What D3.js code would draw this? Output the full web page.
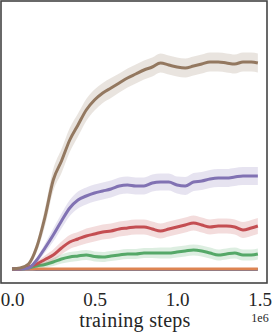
<!DOCTYPE html>
<html>
<head>
<meta charset="utf-8">
<script src="https://cdn.jsdelivr.net/npm/d3@7"></script>
<style>
  body { margin: 0; background: #fff; }
  svg { display: block; }
</style>
</head>
<body>
<svg id="chart" width="272" height="335"></svg>
<script>
// training steps (millions)
const steps = [0, 0.05, 0.1, 0.15, 0.2, 0.25, 0.3, 0.35, 0.4, 0.45, 0.5, 0.55, 0.6, 0.65, 0.7,
  0.75, 0.8, 0.85, 0.9, 0.95, 1.0, 1.05, 1.1, 1.15, 1.2, 1.25, 1.3, 1.35, 1.4, 1.45, 1.49];

// mean return per run
const blueMean   = [0, -1, -1, -2, -2, -2, -2, -2, -2, -2, -2, -2, -2, -2, -2, -2, -2, -2, -2, -2, -2, -2, -2, -2, -2, -2, -2, -2, -2, -2, -2];
const orangeMean = [0, 0, 0, 0, 0, 0, 0, 0, 0, 0, 0, 0, 0, 0, 0, 0, 0, 0, 0, 0, 0, 0, 0, 0, 0, 0, 0, 0, 0, 0, 0];
const greenMean  = [0, 0, 4, 12, 18, 28, 40, 48, 52, 56, 50, 48, 52, 56, 60, 60, 64, 64, 64, 64, 68, 72, 76, 72, 64, 56, 60, 64, 56, 56, 60];
const redMean    = [0, 0, 8, 20, 38, 56, 84, 108, 120, 132, 140, 148, 152, 160, 164, 168, 168, 160, 152, 160, 168, 176, 184, 176, 168, 172, 172, 168, 156, 164, 172];
const purpleMean = [0, 0, 4, 36, 84, 136, 192, 244, 276, 292, 304, 312, 320, 332, 336, 332, 332, 344, 348, 348, 336, 332, 348, 352, 360, 364, 364, 368, 372, 372, 372];
const brownMean  = [0, 4, 20, 88, 208, 356, 432, 516, 576, 636, 676, 704, 724, 744, 764, 780, 796, 808, 824, 816, 808, 804, 812, 820, 828, 828, 824, 820, 828, 828, 824];

// spread (half width of the shaded band)
const blueSpread   = [0, 1, 1, 2, 2, 2, 2, 2, 2, 2, 2, 2, 2, 2, 2, 2, 2, 2, 2, 2, 2, 2, 2, 2, 2, 2, 2, 2, 2, 2, 2];
const orangeSpread = [0, 1, 1, 1, 1, 1, 1, 1, 1, 1, 1, 1, 1, 1, 1, 1, 1, 1, 1, 1, 1, 1, 1, 1, 1, 1, 1, 1, 1, 1, 1];
const greenSpread  = [0, 1, 3, 8, 12, 16, 18, 20, 20, 20, 20, 20, 20, 20, 20, 20, 20, 20, 22, 22, 22, 22, 22, 22, 22, 22, 22, 22, 22, 22, 22];
const redSpread    = [0, 1, 4, 10, 16, 22, 26, 28, 28, 30, 30, 30, 30, 30, 30, 30, 30, 30, 30, 30, 30, 30, 30, 30, 30, 30, 30, 30, 32, 32, 32];
const purpleSpread = [0, 1, 3, 10, 18, 26, 30, 32, 34, 34, 34, 34, 34, 34, 34, 34, 34, 34, 34, 34, 34, 36, 36, 36, 36, 36, 36, 36, 36, 36, 36];
const brownSpread  = [0, 2, 8, 20, 36, 44, 48, 48, 46, 44, 42, 40, 40, 38, 38, 38, 38, 38, 38, 38, 38, 38, 38, 38, 38, 38, 38, 38, 38, 38, 38];

const xTicks = [0, 0.5, 1.0, 1.5];

const series = [
  { mean: blueMean, spread: blueSpread, color: "#4C72B0" },
  { mean: orangeMean, spread: orangeSpread, color: "#DD8452" },
  { mean: greenMean, spread: greenSpread, color: "#55A868" },
  { mean: redMean, spread: redSpread, color: "#C44E52" },
  { mean: purpleMean, spread: purpleSpread, color: "#8172B3" },
  { mean: brownMean, spread: brownSpread, color: "#937860" }
];

const svg = d3.select("#chart");
const frame = { left: 1, top: 1, right: 267, bottom: 283 };
const serif = "'Liberation Serif', 'DejaVu Serif', serif";

const x = d3.scaleLinear().domain([0, 1.5]).range([12, 259.5]);
const y = d3.scaleLinear().domain([-56, 1072]).range([frame.bottom, frame.top]);

const g = svg.append("g");

series.forEach((s) => {
  const pts = steps.map((t, i) => ({ t, m: s.mean[i], e: s.spread[i] }));

  g.append("path")
    .datum(pts)
    .attr("fill", s.color)
    .attr("fill-opacity", 0.2)
    .attr("d", d3.area()
      .x((d) => x(d.t))
      .y0((d) => y(d.m - d.e))
      .y1((d) => y(d.m + d.e))
      .curve(d3.curveMonotoneX));

  g.append("path")
    .datum(pts)
    .attr("fill", "none")
    .attr("stroke", s.color)
    .attr("stroke-width", 3)
    .attr("stroke-linejoin", "round")
    .attr("d", d3.line()
      .x((d) => x(d.t))
      .y((d) => y(d.m))
      .curve(d3.curveMonotoneX));
});

// frame
svg.append("rect")
  .attr("x", frame.left)
  .attr("y", frame.top)
  .attr("width", frame.right - frame.left)
  .attr("height", frame.bottom - frame.top)
  .attr("fill", "none")
  .attr("stroke", "#444")
  .attr("stroke-width", 1.6);

// x axis
const xAxis = svg.append("g")
  .attr("transform", `translate(0,${frame.bottom})`)
  .call(d3.axisBottom(x).tickValues(xTicks).tickSize(0).tickPadding(10).tickFormat(d3.format(".1f")));
xAxis.select(".domain").remove();
xAxis.selectAll("text")
  .attr("font-family", serif)
  .attr("font-size", 19)
  .attr("fill", "#262626");

svg.append("text")
  .attr("x", 135)
  .attr("y", 327)
  .attr("text-anchor", "middle")
  .attr("font-family", serif)
  .attr("font-size", 20)
  .attr("letter-spacing", 0.3)
  .attr("fill", "#262626")
  .text("training steps");

svg.append("text")
  .attr("x", 260)
  .attr("y", 322)
  .attr("text-anchor", "middle")
  .attr("font-family", serif)
  .attr("font-size", 12)
  .attr("fill", "#262626")
  .text("1e6");
</script>
</body>
</html>
